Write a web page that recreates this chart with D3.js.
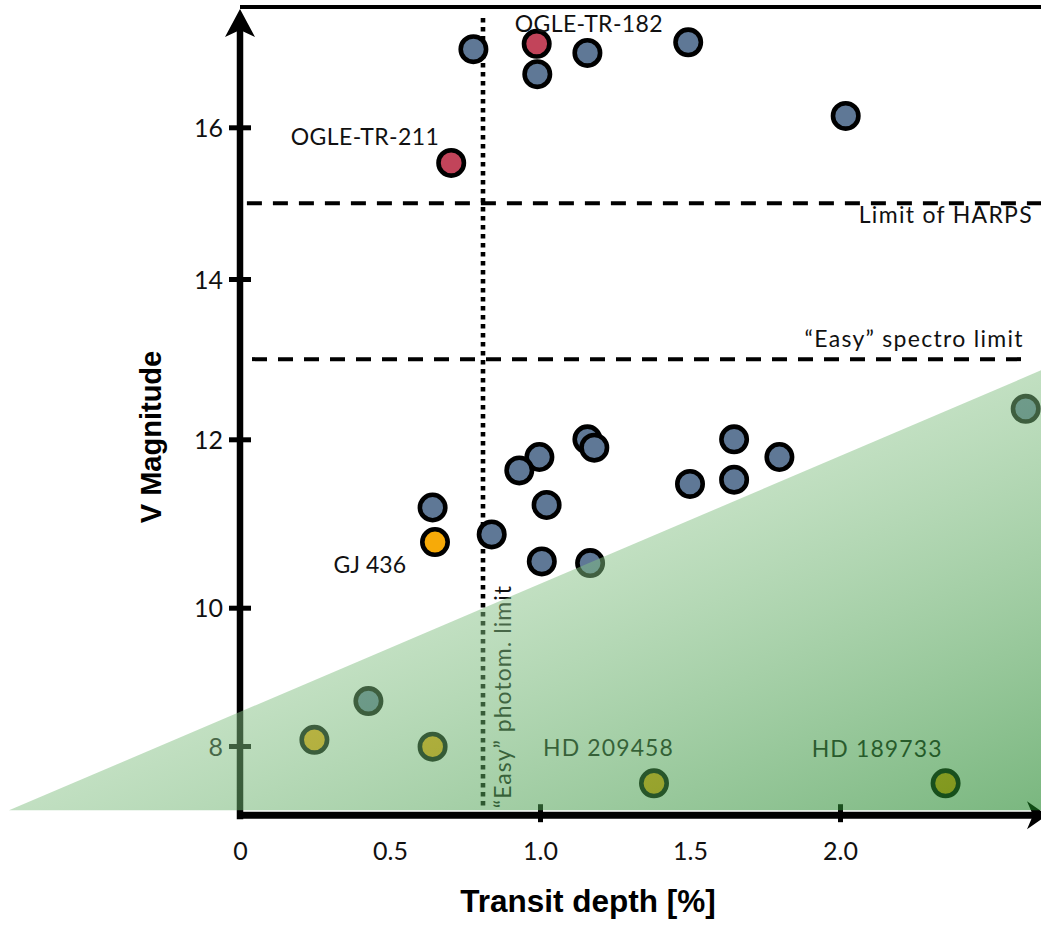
<!DOCTYPE html>
<html><head><meta charset="utf-8">
<script src="https://cdn.jsdelivr.net/npm/d3@7"></script>
<style>body{margin:0;background:#fff}svg{display:block}</style>
</head><body>
<svg id="chart" width="1041" height="925"></svg>
<script>
// ---- data ----
const depth = [0.778, 0.991, 0.989, 1.158, 1.494, 2.019, 0.704,
  0.642, 0.650, 0.839, 0.998, 0.931, 1.022, 1.006, 1.158, 1.181, 1.167,
  1.647, 1.798, 1.500, 1.647, 2.619, 0.428, 0.248, 0.642, 1.380, 2.352];
const vmag = [17.03, 16.70, 17.10, 16.98, 17.12, 16.15, 15.53,
  11.19, 10.78, 10.87, 11.79, 11.63, 11.22, 10.55, 12.00, 11.90, 10.53,
  12.00, 11.79, 11.47, 11.52, 12.38, 8.65, 8.09, 7.99, 7.46, 7.46];
const kind = ["field","field","ogle","field","field","field","ogle",
  "field","bright","field","field","field","field","field","field","field","field",
  "field","field","field","field","field","field","bright","bright","bright","bright"];
const names = ["","","OGLE-TR-182","","","","OGLE-TR-211",
  "","GJ 436","","","","","","","","",
  "","","","","","","","","HD 209458","HD 189733"];

const xTickValues = [0, 0.5, 1.0, 1.5, 2.0];
const xTickLabels = ["0", "0.5", "1.0", "1.5", "2.0"];
const xTickMarks = [1.0, 2.0];
const yTickValues = [8, 10, 12, 14, 16];
const yTickLabels = ["8", "10", "12", "14", "16"];

const harpsLimit = 15, harpsRange = [0.023, 2.67];
const spectroLimit = 13, spectroRange = [0.04, 2.633];
const photomLimit = 0.81, photomRange = [7.10, 17.44];
const zoneDepth = [-0.77, 2.67, 2.67];
const zoneMag = [7.07, 7.07, 12.86];

// ---- scales ----
const W = 1041, H = 925;
const x = d3.scaleLinear().domain([0, 2]).range([240, 840]);
// hand-drawn magnitude axis: piecewise linear through its tick marks
const y = d3.scaleLinear()
  .domain([7, 8, 10, 12, 14, 16, 17.6])
  .range([815.2, 746, 607.7, 439.3, 279, 127.3, 5.9]);

const colors = {field: "#5f7896", ogle: "#c2445a", bright: "#f7aa08"};
const FONT = "Lato, 'Open Sans', sans-serif";

const svg = d3.select("#chart");
const defs = svg.append("defs");
const g = svg.append("g");

// reference lines
g.append("line")
  .attr("x1", x(harpsRange[0])).attr("x2", x(harpsRange[1]))
  .attr("y1", y(harpsLimit)).attr("y2", y(harpsLimit))
  .attr("stroke", "#000").attr("stroke-width", 4).attr("stroke-dasharray", "15,11");
g.append("line")
  .attr("x1", x(spectroRange[0])).attr("x2", x(spectroRange[1]))
  .attr("y1", y(spectroLimit)).attr("y2", y(spectroLimit))
  .attr("stroke", "#000").attr("stroke-width", 4).attr("stroke-dasharray", "15,11");
g.append("line")
  .attr("x1", x(photomLimit)).attr("x2", x(photomLimit))
  .attr("y1", y(photomRange[1])).attr("y2", y(photomRange[0]))
  .attr("stroke", "#000").attr("stroke-width", 4.6).attr("stroke-dasharray", "4.5,4.5");

g.append("text").text("Limit of HARPS")
  .attr("x", x(harpsRange[1]) - 8).attr("y", y(harpsLimit) + 20)
  .attr("text-anchor", "end").attr("font-family", FONT).attr("font-size", 23)
  .attr("letter-spacing", 1.3).attr("fill", "#111");
g.append("text").text("\u201CEasy\u201D spectro limit")
  .attr("x", x(spectroRange[1]) - 6).attr("y", y(spectroLimit) - 12.5)
  .attr("text-anchor", "end").attr("font-family", FONT).attr("font-size", 23)
  .attr("letter-spacing", 1.3).attr("fill", "#111");
g.append("text").text("\u201CEasy\u201D photom. limit")
  .attr("transform", `translate(${x(photomLimit) + 28},${y(photomRange[0])}) rotate(-90)`)
  .attr("text-anchor", "start").attr("font-family", FONT).attr("font-size", 23)
  .attr("letter-spacing", 1.05).attr("fill", "#111");

// points
const pts = depth.map((d, i) => ({d, v: vmag[i], k: kind[i], n: names[i]}));
g.selectAll("circle.pt").data(pts).enter().append("circle")
  .attr("class", "pt")
  .attr("cx", p => x(p.d)).attr("cy", p => y(p.v)).attr("r", 12.7)
  .attr("fill", p => colors[p.k]).attr("stroke", "#000").attr("stroke-width", 4.6);

// point labels
const labelOffsets = {
  "OGLE-TR-182": [-22, -12, "start", 0.4],
  "OGLE-TR-211": [-12, -17.5, "end", 0.4],
  "GJ 436": [-29, 31, "end", 0],
  "HD 209458": [20, -27, "end", 1.1],
  "HD 189733": [-3, -26, "end", 1.1]
};
g.selectAll("text.lbl").data(pts.filter(p => p.n)).enter().append("text")
  .attr("class", "lbl")
  .attr("x", p => x(p.d) + labelOffsets[p.n][0])
  .attr("y", p => y(p.v) + labelOffsets[p.n][1])
  .attr("text-anchor", p => labelOffsets[p.n][2])
  .attr("letter-spacing", p => labelOffsets[p.n][3])
  .attr("font-family", FONT).attr("font-size", 23).attr("fill", "#111")
  .text(p => p.n);

// axes
const x0 = x(0), yBase = y(7);
// top border
g.append("line").attr("x1", x0).attr("x2", W).attr("y1", 7).attr("y2", 7)
  .attr("stroke", "#000").attr("stroke-width", 4);
// y axis line + arrow
g.append("line").attr("x1", x0).attr("x2", x0).attr("y1", yBase + 4).attr("y2", 28)
  .attr("stroke", "#000").attr("stroke-width", 6.5);
g.append("path")
  .attr("d", `M${x0},9 L${x0 + 15},37 L${x0},30 L${x0 - 15},37 Z`).attr("fill", "#000");
// x axis line + arrow
g.append("line").attr("x1", x0 - 3).attr("x2", 1036).attr("y1", yBase).attr("y2", yBase)
  .attr("stroke", "#000").attr("stroke-width", 7);
g.append("path")
  .attr("d", `M1047,${yBase} L1027,${yBase - 14} L1033,${yBase} L1027,${yBase + 14} Z`).attr("fill", "#000");

const yAxis = d3.axisLeft(y).tickValues(yTickValues)
  .tickFormat((d, i) => yTickLabels[i]).tickSize(0).tickPadding(17);
const ya = g.append("g").attr("transform", `translate(${x0},0)`).call(yAxis);
ya.select(".domain").remove();
ya.selectAll(".tick line").attr("x1", -11).attr("x2", 11)
  .attr("stroke", "#000").attr("stroke-width", 5);
ya.selectAll(".tick text").attr("font-family", FONT).attr("font-size", 25)
  .attr("fill", "#111").attr("dy", "0.36em");

const xAxis = d3.axisBottom(x).tickValues(xTickValues)
  .tickFormat((d, i) => xTickLabels[i]).tickSize(0).tickPadding(27);
const xa = g.append("g").attr("transform", `translate(0,${yBase})`).call(xAxis);
xa.select(".domain").remove();
xa.selectAll(".tick line")
  .attr("y1", -11).attr("y2", 7)
  .attr("stroke", "#000").attr("stroke-width", 5)
  .attr("display", d => xTickMarks.includes(d) ? null : "none");
xa.selectAll(".tick text").attr("font-family", FONT).attr("font-size", 25).attr("fill", "#111");

// axis titles
svg.append("text").text("Transit depth [%]")
  .attr("x", 588).attr("y", 912).attr("text-anchor", "middle")
  .attr("font-family", "'Liberation Sans', Arial, sans-serif").attr("font-weight", "bold")
  .attr("font-size", 31.5).attr("fill", "#000");
svg.append("text").text("V Magnitude")
  .attr("transform", "translate(161,437) rotate(-90)").attr("text-anchor", "middle")
  .attr("font-family", "'Liberation Sans', Arial, sans-serif").attr("font-weight", "bold")
  .attr("font-size", 29).attr("fill", "#000");

// translucent "easy" zone on top
const grad = defs.append("linearGradient").attr("id", "zoneGrad")
  .attr("gradientUnits", "userSpaceOnUse")
  .attr("x1", 881).attr("y1", 436).attr("x2", 1041).attr("y2", 810);
grad.append("stop").attr("offset", 0).attr("stop-color", "rgb(132,192,132)").attr("stop-opacity", 0.5);
grad.append("stop").attr("offset", 1).attr("stop-color", "rgb(26,131,35)").attr("stop-opacity", 0.58);
const zone = zoneDepth.map((d, i) => [x(d), y(zoneMag[i])]);
svg.append("path").attr("d", d3.line()(zone) + "Z").attr("fill", "url(#zoneGrad)");
</script>
</body></html>
